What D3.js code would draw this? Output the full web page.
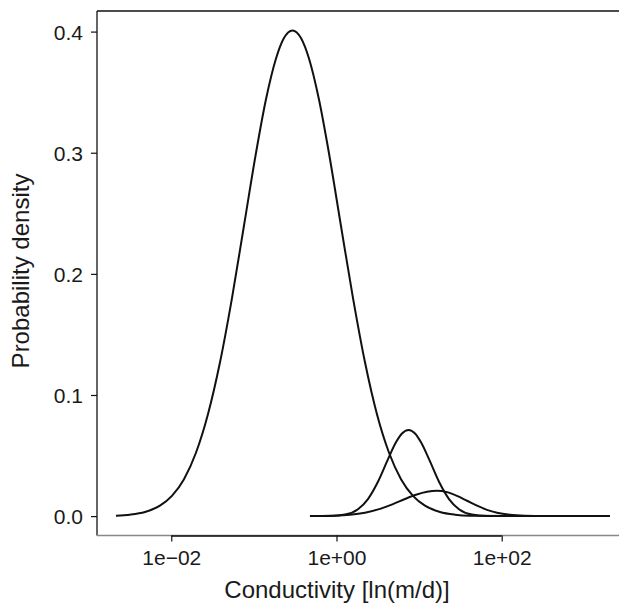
<!DOCTYPE html>
<html>
<head>
<meta charset="utf-8">
<script src="https://cdn.jsdelivr.net/npm/d3@7"></script>
<style>
  html, body { margin: 0; padding: 0; background: #fff; }
  svg { display: block; }
  text { font-family: "Liberation Sans", Arial, Helvetica, sans-serif; fill: #1a1a1a; }
</style>
</head>
<body>
<svg id="chart" width="619" height="604"></svg>
<script>
// ---- Data (log10 conductivity, probability density) ----
const curve1LogK = [-2.669,-2.500,-2.318,-2.137,-1.992,-1.846,-1.701,-1.556,-1.410,-1.265,-1.120,-0.975,-0.854,-0.732,-0.636,-0.533,-0.430,-0.333,-0.212,-0.091,0.054,0.200,0.345,0.490,0.636,0.781,0.926,1.071,1.253,1.435,1.604,2.379];
const curve1Dens = [0.0004,0.0012,0.0034,0.0086,0.0167,0.0305,0.0523,0.0841,0.1270,0.1800,0.2397,0.2996,0.3439,0.3778,0.3947,0.4010,0.3947,0.3778,0.3439,0.2996,0.2397,0.1800,0.1270,0.0841,0.0523,0.0305,0.0167,0.0086,0.0034,0.0012,0.0004,0.0000];

const curve2LogK = [-0.321,-0.079,0.103,0.260,0.381,0.502,0.624,0.720,0.793,0.872,0.951,1.023,1.120,1.241,1.362,1.483,1.640,1.822,2.064,3.190];
const curve2Dens = [0.0000,0.0002,0.0013,0.0057,0.0141,0.0284,0.0470,0.0609,0.0682,0.0711,0.0682,0.0609,0.0470,0.0284,0.0141,0.0057,0.0013,0.0002,0.0000,0.0000];

const curve3LogK = [-0.321,-0.079,0.163,0.345,0.527,0.684,0.829,0.962,1.096,1.217,1.338,1.459,1.580,1.701,1.822,1.943,2.100,2.282,2.524,3.311];
const curve3Dens = [0.0000,0.0003,0.0011,0.0028,0.0060,0.0099,0.0141,0.0176,0.0201,0.0209,0.0198,0.0167,0.0127,0.0086,0.0052,0.0028,0.0011,0.0003,0.0000,0.0000];

const xTickValues = [1e-2, 1e0, 1e2];
const xTickLabels = ["1e\u221202", "1e+00", "1e+02"];
const yTickValues = [0.0, 0.1, 0.2, 0.3, 0.4];
const yTickLabels = ["0.0", "0.1", "0.2", "0.3", "0.4"];

const xTitle = "Conductivity [ln(m/d)]";
const yTitle = "Probability density";

// ---- Layout ----
const plot = { left: 97, right: 630, top: 11, bottom: 535.5 };
const svg = d3.select("#chart");

const x = d3.scaleLog()
  .domain([Math.pow(10, -2.899), Math.pow(10, 3.553)])
  .range([plot.left, plot.right]);
const y = d3.scaleLinear()
  .domain([-0.016, 0.417])
  .range([plot.bottom, plot.top]);

// Box: left and top black, bottom greyish
svg.append("line").attr("x1", plot.left).attr("x2", plot.left)
  .attr("y1", plot.top).attr("y2", plot.bottom)
  .attr("stroke", "#111").attr("stroke-width", 1.3);
svg.append("line").attr("x1", plot.left).attr("x2", plot.right)
  .attr("y1", plot.top).attr("y2", plot.top)
  .attr("stroke", "#111").attr("stroke-width", 1.3);
svg.append("line").attr("x1", plot.left).attr("x2", plot.right)
  .attr("y1", plot.bottom).attr("y2", plot.bottom)
  .attr("stroke", "#888").attr("stroke-width", 1.3);

// X axis (line from first to last tick, outward ticks)
const xAxis = d3.axisBottom(x)
  .tickValues(xTickValues)
  .tickFormat((d, i) => xTickLabels[i])
  .tickSize(6)
  .tickSizeOuter(0)
  .tickPadding(9);
const gx = svg.append("g").attr("transform", `translate(0,${plot.bottom})`).call(xAxis);
gx.select(".domain")
  .attr("d", `M${x(xTickValues[0])},0.5H${x(xTickValues[xTickValues.length-1])}`)
  .attr("stroke", "#111").attr("stroke-width", 1.3);
gx.selectAll(".tick line").attr("stroke", "#111").attr("stroke-width", 1.2);
gx.selectAll(".tick text")
  .style("font-size", "21px").style("font-family", "'Liberation Sans', Arial, sans-serif")
  .attr("fill", "#1a1a1a");

// Y axis
const yAxis = d3.axisLeft(y)
  .tickValues(yTickValues)
  .tickFormat((d, i) => yTickLabels[i])
  .tickSize(6)
  .tickSizeOuter(0)
  .tickPadding(8);
const gy = svg.append("g").attr("transform", `translate(${plot.left},0)`).call(yAxis);
gy.select(".domain").remove();
gy.selectAll(".tick line").attr("stroke", "#111").attr("stroke-width", 1.2);
gy.selectAll(".tick text")
  .style("font-size", "21px").style("font-family", "'Liberation Sans', Arial, sans-serif")
  .attr("fill", "#1a1a1a").attr("dy", "0.36em");

// Curves
const curves = [
  { logK: curve1LogK, dens: curve1Dens },
  { logK: curve2LogK, dens: curve2Dens },
  { logK: curve3LogK, dens: curve3Dens }
];
const line = d3.line()
  .x(d => x(Math.pow(10, d[0])))
  .y(d => y(d[1]))
  .curve(d3.curveMonotoneX);

curves.forEach(c => {
  const pts = c.logK.map((k, i) => [k, c.dens[i]]);
  svg.append("path")
    .datum(pts)
    .attr("d", line)
    .attr("fill", "none")
    .attr("stroke", "#111")
    .attr("stroke-width", 2)
    .attr("stroke-linejoin", "round");
});

// Titles
svg.append("text")
  .attr("x", 337).attr("y", 598)
  .attr("text-anchor", "middle")
  .style("font-size", "24px")
  .text(xTitle);
svg.append("text")
  .attr("transform", "translate(29,271) rotate(-90)")
  .attr("text-anchor", "middle")
  .style("font-size", "24px")
  .text(yTitle);
</script>
</body>
</html>
